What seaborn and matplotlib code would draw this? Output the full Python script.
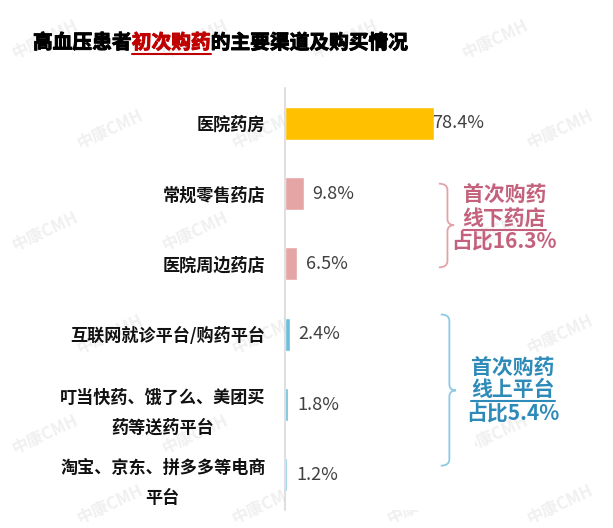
import numpy as np
import pandas as pd
import seaborn as sns
import matplotlib.pyplot as plt
import matplotlib.patheffects as pe
from matplotlib.path import Path
from matplotlib.patches import PathPatch
from matplotlib.lines import Line2D

sns.set_style("white")
plt.rcParams['font.family'] = ['Noto Sans CJK SC', 'DejaVu Sans']

# 数据
channels = ["医院药房", "常规零售药店", "医院周边药店", "互联网就诊平台/购药平台",
            "叮当快药、饿了么、美团买\n药等送药平台", "淘宝、京东、拼多多等电商\n平台"]
shares = [78.4, 9.8, 6.5, 2.4, 1.8, 1.2]
groups = ["医院", "线下", "线下", "线上", "线上", "线上"]
label_pad = [-1.5, 6.5, 6.5, 6.5, 6.5, 6.5]

colors = {"医院": "#FFC000", "线下": "#E6A5A5", "线上": "#6DBEDD"}
pink_txt = "#C4617D"
blue_txt = "#2E8AB8"

df = pd.DataFrame({"渠道": channels, "占比": shares, "组": groups})

fig = plt.figure(figsize=(6.13, 5.28), dpi=100)
ax = fig.add_axes([285 / 613, 1 - 510 / 528, 190 / 613, 422 / 528])

sns.barplot(data=df, y="渠道", x="占比", hue="组", palette=colors, dodge=False,
            legend=False, width=0.47, saturation=1, ax=ax, orient="h")

ax.set_xlim(0, 100)
ax.set_ylim(5.5, -0.5)
ax.set_xlabel("")
ax.set_ylabel("")
ax.set_xticks([])
for s in ["top", "right", "bottom"]:
    ax.spines[s].set_visible(False)
ax.spines["left"].set_color("#D9D9D9")
ax.spines["left"].set_linewidth(1.2)
ax.tick_params(axis="y", length=0, pad=14)
for lab in ax.get_yticklabels():
    lab.set_fontsize(12.3)
    lab.set_fontweight("bold")
    lab.set_color("#111111")
    lab.set_multialignment("center")
    lab.set_linespacing(1.85)

# 数值标签
for i, (v, p) in enumerate(zip(shares, label_pad)):
    ax.annotate(f"{v}%", (v, i), xytext=(p, 0), textcoords="offset points",
                ha="left", va="center", fontsize=13, fontweight="medium",
                color="#404040")


def brace(ax, x, y0, y1, ymid, color, back=4.5, tip=3.5, r=0.09):
    verts = [(x - back, y0), (x, y0), (x, y0 + r),
             (x, ymid - r), (x, ymid), (x + tip, ymid),
             (x, ymid), (x, ymid + r),
             (x, y1 - r), (x, y1), (x - back, y1)]
    codes = [Path.MOVETO, Path.CURVE3, Path.CURVE3,
             Path.LINETO, Path.CURVE3, Path.CURVE3,
             Path.CURVE3, Path.CURVE3,
             Path.LINETO, Path.CURVE3, Path.CURVE3]
    ax.add_patch(PathPatch(Path(verts, codes), fill=False, edgecolor=color,
                           lw=1.3, clip_on=False))


brace(ax, 85.5, 0.86, 2.05, 1.45, "#E2A3A8")
brace(ax, 86.5, 2.72, 4.87, 3.8, "#8DCBE5")

fig.canvas.draw()
renderer = fig.canvas.get_renderer()


def underline(t, color, gap=2):
    bb = t.get_window_extent(renderer)
    x0, x1 = bb.x0 / fig.bbox.width, bb.x1 / fig.bbox.width
    y = (bb.y0 - gap) / fig.bbox.height
    fig.add_artist(Line2D([x0, x1], [y, y], color=color, lw=1.5))


def block(ax, xc, ys, lines, color):
    for k, (y, s) in enumerate(zip(ys, lines)):
        t = ax.text(xc, y, s, ha="center", va="center", fontsize=15,
                    fontweight="bold", color=color, clip_on=False)
        if k == 1:
            underline(t, color, gap=1)


block(ax, 115.5, [1.02, 1.35, 1.69], ["首次购药", "线下药店", "占比16.3%"], pink_txt)
block(ax, 120.0, [3.47, 3.79, 4.13], ["首次购药", "线上平台", "占比5.4%"], blue_txt)

# 标题
title_parts = [("高血压患者", "#000000"), ("初次购药", "#C00000"), ("的主要渠道及购买情况", "#000000")]
x = 33 / 613
for k, (s, c) in enumerate(title_parts):
    t = fig.text(x, 1 - 43 / 528, s, fontsize=14.2, fontweight="bold", color=c,
                 ha="left", va="center",
                 path_effects=[pe.withStroke(linewidth=0.7, foreground=c)])
    if k == 1:
        underline(t, c, gap=1)
    x = t.get_window_extent(renderer).x1 / fig.bbox.width

# 水印
wm_rows = [40, 130, 232, 335, 435, 505]
for r, yy in enumerate(wm_rows):
    xs = [45, 195, 345, 495] if r % 2 == 0 else [110, 265, 420, 560]
    for xx in xs:
        fig.text(xx / 613, 1 - yy / 528, "中康CMH", fontsize=12, fontweight="bold",
                 color="#F0F0F0", rotation=25, ha="center", va="center", zorder=-5)

fig.savefig("out.png", dpi=100)
